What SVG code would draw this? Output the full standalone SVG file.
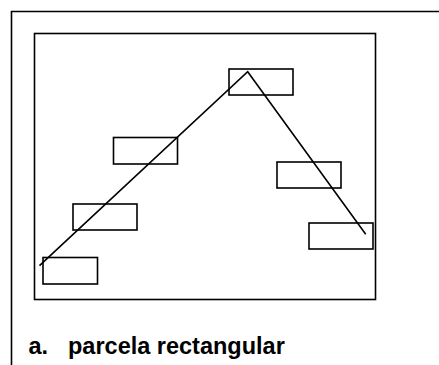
<svg xmlns="http://www.w3.org/2000/svg" width="439" height="365" viewBox="0 0 439 365">
<style>
.f{fill:none;stroke:#000;stroke-width:1.6}
.b{fill:#fff;stroke:#000;stroke-width:1.6}
.t{font-family:"Liberation Sans",Arial,sans-serif;font-weight:bold;font-size:23.5px;fill:#000}
</style>
<rect width="439" height="365" fill="#fff"/>
<path class="f" d="M11.5,365 V11.5 H439"/>
<rect id="plot" class="f" x="34.5" y="33.5" width="341" height="266"/>
<g id="n1"><rect class="b" x="229" y="69" width="64" height="26"/></g>
<g id="n2"><rect class="b" x="113.5" y="137.5" width="64" height="26.5"/></g>
<g id="n3"><rect class="b" x="73" y="204" width="64" height="26"/></g>
<g id="n4"><rect class="b" x="43" y="257.5" width="54.5" height="26.5"/></g>
<g id="n5"><rect class="b" x="277" y="162" width="64" height="26"/></g>
<g id="n6"><rect class="b" x="309" y="223" width="64" height="26"/></g>
<g id="connectors"><polyline class="f" points="39.5,265.7 247.7,71.7 365.7,234.3"/></g>
<text class="t" x="28.5" y="354">a.</text>
<text class="t" x="68" y="354">parcela rectangular</text>
</svg>
